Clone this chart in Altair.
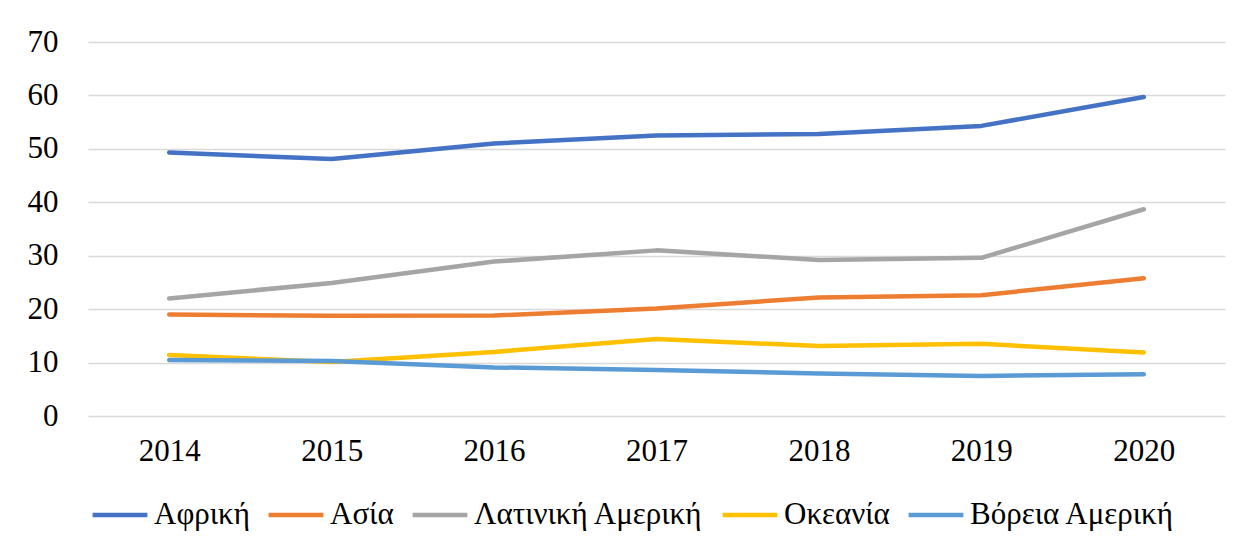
import altair as alt
import pandas as pd

years = ["2014", "2015", "2016", "2017", "2018", "2019", "2020"]
series_names = ["Αφρική", "Ασία", "Λατινική Αμερική", "Οκεανία", "Βόρεια Αμερική"]
africa = [49.3, 48.1, 51.0, 52.5, 52.8, 54.3, 59.7]
asia = [19.0, 18.75, 18.8, 20.1, 22.2, 22.6, 25.8]
latin_america = [22.0, 24.9, 28.9, 31.0, 29.2, 29.6, 38.7]
oceania = [11.4, 10.1, 12.0, 14.4, 13.1, 13.5, 11.9]
north_america = [10.5, 10.3, 9.1, 8.6, 7.95, 7.5, 7.8]
colors = ["#4472C4", "#ED7D31", "#A5A5A5", "#FFC000", "#5B9BD5"]

values = [africa, asia, latin_america, oceania, north_america]
rows = []
for name, vals in zip(series_names, values):
    for y, v in zip(years, vals):
        rows.append({"year": y, "series": name, "value": v})
df = pd.DataFrame(rows)

FONT = "Liberation Serif"

chart = alt.Chart(df).mark_line(strokeWidth=4.5, strokeCap="round", strokeJoin="round").encode(
    x=alt.X("year:O", sort=years, title=None,
            scale=alt.Scale(padding=0.5),
            axis=alt.Axis(labelAngle=0, ticks=False, domain=False, grid=False,
                          labelFont=FONT, labelFontSize=31, labelPadding=20,
                          labelColor="#000000")),
    y=alt.Y("value:Q", title=None,
            scale=alt.Scale(domain=[0, 70], nice=False),
            axis=alt.Axis(values=[0, 10, 20, 30, 40, 50, 60, 70], ticks=False, domain=False,
                          grid=True, gridColor="#D9D9D9", gridWidth=1.5,
                          labelFont=FONT, labelFontSize=31, labelPadding=30,
                          labelColor="#000000")),
    color=alt.Color("series:N", sort=series_names,
                    scale=alt.Scale(domain=series_names, range=colors),
                    legend=alt.Legend(title=None, orient="none", direction="horizontal",
                                      legendX=2, legendY=443,
                                      symbolType="stroke", symbolStrokeWidth=4.5,
                                      symbolSize=3000, labelFont=FONT, labelFontSize=31,
                                      labelColor="#000000", columnPadding=9,
                                      labelOffset=4, labelLimit=500)),
    order=alt.Order("series:N"),
).properties(
    width=1137, height=374,
    autosize=alt.AutoSizeParams(type="none"),
    padding={"left": 80, "top": 34, "right": 11, "bottom": 120},
).configure(
    font=FONT,
).configure_view(
    stroke=None,
)

chart.save("out.html", embed_options={"renderer": "svg", "actions": False})
